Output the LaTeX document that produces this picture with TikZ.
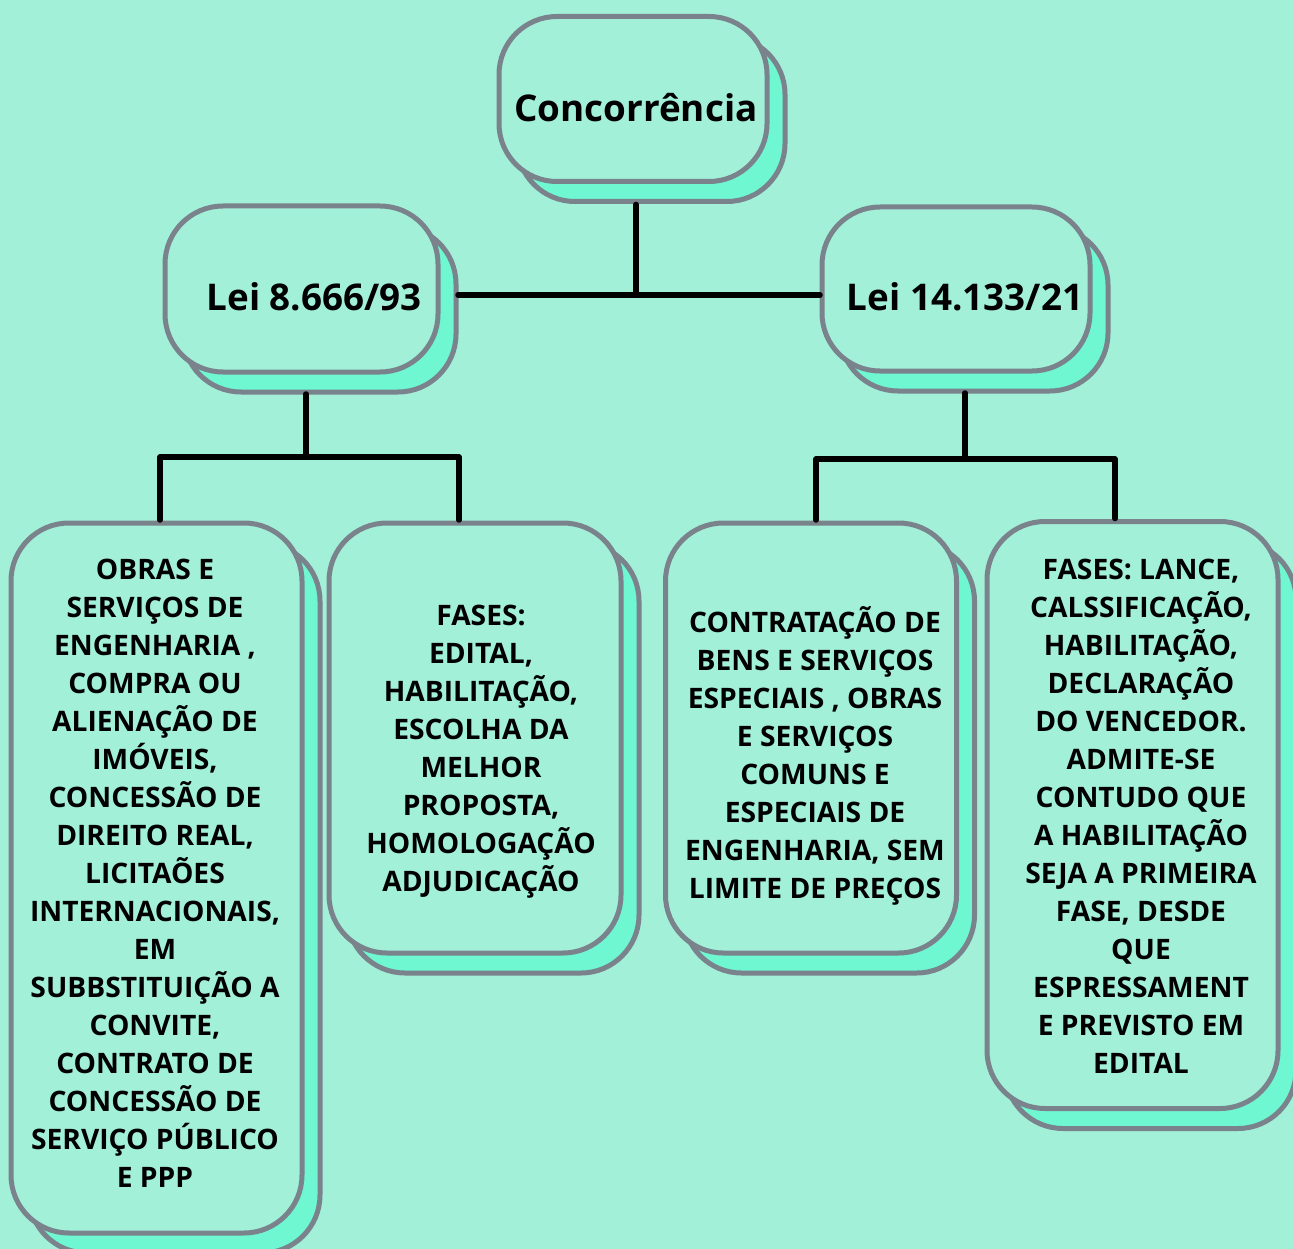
\documentclass[tikz,border=0pt]{standalone}
\usepackage{fontspec}
\setmainfont{Open Sans}
\usetikzlibrary{calc}
\definecolor{bg}{HTML}{A3F0D9}
\definecolor{sh}{HTML}{6FF7D1}
\definecolor{bd}{HTML}{7A828C}
\begin{document}
\begin{tikzpicture}[x=1pt,y=-1pt,
  box/.style={draw=bd, line width=5pt, fill=bg, rounded corners=58pt, inner sep=0pt, outer sep=0pt},
  shadowbox/.style={box, fill=sh},
  lbl/.style={align=center, inner sep=0pt, font=\fontsize{28.2}{38}\selectfont\bfseries, text=black},
  big/.style={inner sep=0pt, font=\fontsize{36.8}{40}\selectfont\bfseries, text=black},
  conn/.style={line width=5.5pt, line cap=round, line join=round, draw=black}]

\fill[bg] (0,0) rectangle (1293,1249);
\useasboundingbox (0,0) rectangle (1293,1249);
\clip (0,0) rectangle (1293,1249);

% shadows
\node[shadowbox, minimum width=268pt, minimum height=165pt] (ts) at (651,119) {};
\node[shadowbox, minimum width=273pt, minimum height=166pt] (l1s) at (319.5,309) {};
\node[shadowbox, minimum width=268pt, minimum height=164pt] (l2s) at (974,309) {};
\node[shadowbox, minimum width=291pt, minimum height=710pt] (b1s) at (174.5,898) {};
\node[shadowbox, minimum width=292pt, minimum height=430pt] (b2s) at (493,758) {};
\node[shadowbox, minimum width=291pt, minimum height=430pt] (b3s) at (829,758) {};
\node[shadowbox, minimum width=291pt, minimum height=587pt] (b4s) at (1150.5,835) {};

% main boxes
\node[box, minimum width=268pt, minimum height=165pt] (t) at (633,99) {};
\node[box, minimum width=273pt, minimum height=166pt] (l1) at (301.5,289) {};
\node[box, minimum width=268pt, minimum height=164pt] (l2) at (956,289) {};
\node[box, minimum width=291pt, minimum height=710pt] (b1) at (156.5,878) {};
\node[box, minimum width=292pt, minimum height=430pt] (b2) at (475,738) {};
\node[box, minimum width=291pt, minimum height=430pt] (b3) at (811,738) {};
\node[box, minimum width=291pt, minimum height=587pt] (b4) at (1132.5,815) {};

% texts
\node[big, anchor=base] (tt) at (636,122) {Concorrência};
\node[big, anchor=base] (l1t) at (314,310) {Lei 8.666/93};
\node[big, anchor=base] (l2t) at (965,310) {Lei 14.133/21};

\node[lbl] (b1t) at (155,873) {OBRAS E\\SERVIÇOS DE\\ENGENHARIA ,\\COMPRA OU\\ALIENAÇÃO DE\\IMÓVEIS,\\CONCESSÃO DE\\DIREITO REAL,\\LICITAÕES\\INTERNACIONAIS,\\EM\\SUBBSTITUIÇÃO A\\CONVITE,\\CONTRATO DE\\CONCESSÃO DE\\SERVIÇO PÚBLICO\\E PPP};
\node[lbl] (b2t) at (481,752) {FASES:\\EDITAL,\\HABILITAÇÃO,\\ESCOLHA DA\\MELHOR\\PROPOSTA,\\HOMOLOGAÇÃO\\ADJUDICAÇÃO};
\node[lbl] (b3t) at (815,756) {CONTRATAÇÃO DE\\BENS E SERVIÇOS\\ESPECIAIS , OBRAS\\E SERVIÇOS\\COMUNS E\\ESPECIAIS DE\\ENGENHARIA, SEM\\LIMITE DE PREÇOS};
\node[lbl] (b4t) at (1141,816) {FASES: LANCE,\\CALSSIFICAÇÃO,\\HABILITAÇÃO,\\DECLARAÇÃO\\DO VENCEDOR.\\ADMITE-SE\\CONTUDO QUE\\A HABILITAÇÃO\\SEJA A PRIMEIRA\\FASE, DESDE\\QUE\\ESPRESSAMENT\\E PREVISTO EM\\EDITAL};

% junctions
\coordinate (j0) at (636,295);
\coordinate (j1) at (306,457);
\coordinate (j1a) at (160,457);
\coordinate (j1b) at (459,457);
\coordinate (j2) at (965,459);
\coordinate (j2a) at (816,459);
\coordinate (j2b) at (1115,459);

% connectors
\draw[conn] ([yshift=-3pt]j0 |- ts.south) -- (j0);
\draw[conn] ([xshift=2pt]l1s.east |- j0) -- ([xshift=-2pt]l2.west |- j0);
\draw[conn] ([yshift=-2pt]j1 |- l1s.south) -- (j1);
\draw[conn] ([yshift=3pt]j1a |- b1.north) -- (j1a) -- (j1b) -- ([yshift=3pt]j1b |- b2.north);
\draw[conn] ([yshift=-2pt]j2 |- l2s.south) -- (j2);
\draw[conn] ([yshift=3pt]j2a |- b3.north) -- (j2a) -- (j2b) -- ([yshift=3pt]j2b |- b4.north);
\end{tikzpicture}
\end{document}
